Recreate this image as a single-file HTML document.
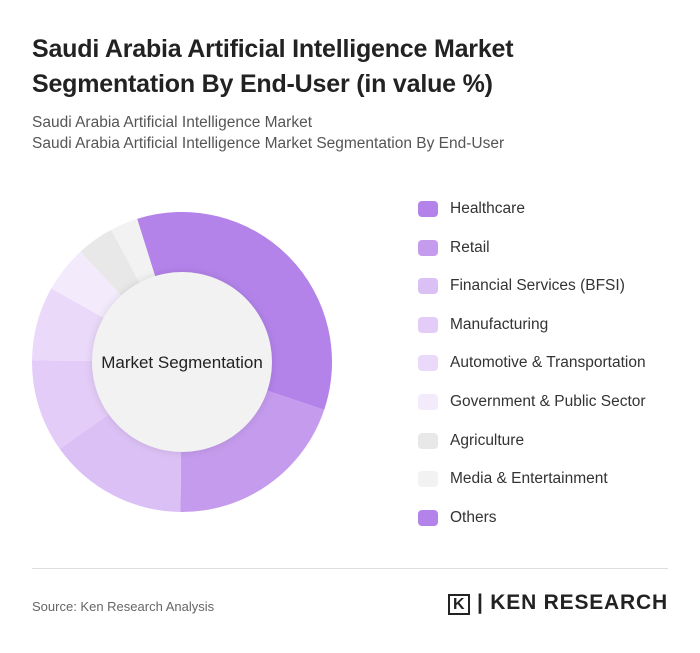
<!DOCTYPE html>
<html><head><meta charset="utf-8">
<style>
body{margin:0;width:700px;height:653px;background:#fff;font-family:"Liberation Sans",sans-serif;position:relative;overflow:hidden}
.t{position:absolute;left:32px;top:32px;font-size:25px;font-weight:bold;color:#222;line-height:35px;letter-spacing:-0.2px}
.s{position:absolute;left:32px;top:112px;font-size:15.5px;color:#555;line-height:21px}
.leg{position:absolute;left:418px;font-size:15.5px;color:#333;display:flex;align-items:center}
.leg span{display:inline-block;width:20px;height:16px;border-radius:4px;margin-right:12px}
.hr{position:absolute;left:32px;right:32px;top:568px;border-top:1px solid #ddd}
.src{position:absolute;left:32px;top:599px;font-size:13px;color:#666}
.logo{position:absolute;left:448px;top:591px;font-size:21px;font-weight:bold;color:#222;letter-spacing:0.8px}
</style></head><body>
<div class="t">Saudi Arabia Artificial Intelligence Market<br>Segmentation By End-User (in value %)</div>
<div class="s">Saudi Arabia Artificial Intelligence Market<br>Saudi Arabia Artificial Intelligence Market Segmentation By End-User</div>
<svg id="chart" width="700" height="653" style="position:absolute;left:0;top:0">
<defs><filter id="sh" x="-20%" y="-20%" width="140%" height="140%"><feDropShadow dx="0" dy="0" stdDeviation="4" flood-color="#000" flood-opacity="0.12"/></filter></defs>
</svg>
<div id="legend"></div>
<div class="hr"></div>
<div class="src">Source: Ken Research Analysis</div>
<div class="logo"><span style="border:2px solid #222;padding:0 3px;font-size:16px">K</span> | KEN RESEARCH</div>
<script>
const categories=["Healthcare","Retail","Financial Services (BFSI)","Manufacturing","Automotive & Transportation","Government & Public Sector","Agriculture","Media & Entertainment","Others"];
const values=[35,20,15,10,8,5,4,3,0];
const colors=["#b383ea","#c59bed","#dbc0f5","#e3ccf7","#ead9f9","#f3ebfc","#e8e8e8","#f2f2f2","#b383ea"];
const svg=document.getElementById('chart');const NS="http://www.w3.org/2000/svg";
const cx=182,cy=362,R=150,r=90,start=-17.4;
const total=values.reduce((a,b)=>a+b,0);
function pt(a,rad){const t=(a-90)*Math.PI/180;return[cx+rad*Math.cos(t),cy+rad*Math.sin(t)];}
let a=start;
values.forEach((v,i)=>{
 if(v<=0)return;
 const sweep=v/total*360,b=a+sweep;
 const [x1,y1]=pt(a,R),[x2,y2]=pt(b,R);
 const p=document.createElementNS(NS,'path');
 p.setAttribute('d',`M${cx},${cy}L${x1},${y1}A${R},${R} 0 ${sweep>180?1:0} 1 ${x2},${y2}Z`);
 p.setAttribute('fill',colors[i]);
 
 
 svg.appendChild(p);a=b;
});
const c=document.createElementNS(NS,'circle');
c.setAttribute('cx',cx);c.setAttribute('cy',cy);c.setAttribute('r',r);c.setAttribute('fill','#f2f2f2');c.setAttribute('filter','url(#sh)');


svg.appendChild(c);
const t=document.createElementNS(NS,'text');
t.setAttribute('x',cx);t.setAttribute('y',cy+6);t.setAttribute('text-anchor','middle');t.setAttribute('font-size','17');t.setAttribute('fill','#222');t.setAttribute('font-family','Liberation Sans, sans-serif');
t.textContent='Market Segmentation';


svg.appendChild(t);
const lg=document.getElementById('legend');
categories.forEach((n,i)=>{
 const d=document.createElement('div');d.className='leg';d.style.top=(200+i*38.6)+'px';
 d.innerHTML=`<span style="background:${colors[i]}"></span>${n.replace('&','&amp;')}`;
 
 
 lg.appendChild(d);
});
</script>
</body></html>
